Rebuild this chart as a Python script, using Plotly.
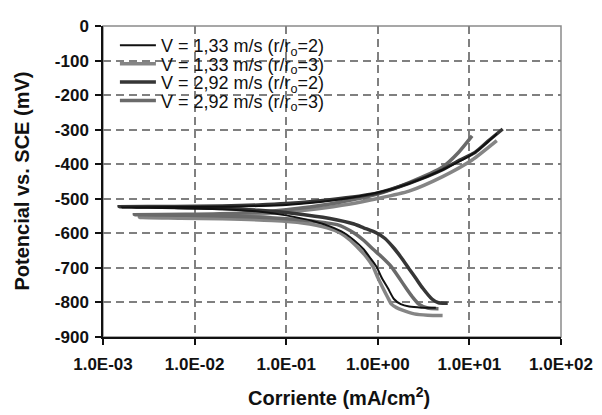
import plotly.graph_objects as go

# Series names
names = [
    "V = 1,33 m/s (r/r<sub>o</sub>=2)",
    "V = 1,33 m/s (r/r<sub>o</sub>=3)",
    "V = 2,92 m/s (r/r<sub>o</sub>=2)",
    "V = 2,92 m/s (r/r<sub>o</sub>=3)",
]

# Series 1: V = 1,33 m/s (r/ro=2)  -- current (mA/cm2), potential (mV)
s1_i = [4.3, 3.0, 2.2, 1.78, 1.5, 1.29, 1.1, 0.97, 0.82, 0.70, 0.55, 0.43, 0.3, 0.2, 0.1, 0.05, 0.02, 0.006, 0.0016,
        0.006, 0.02, 0.05, 0.1, 0.3, 1.0, 2.2, 5.1, 11.5, 20]
s1_e = [-815, -815, -812, -805, -790, -759, -728, -697, -670, -646, -620, -599, -580, -565, -548, -537, -530, -527, -525,
        -524, -523, -521, -518, -506, -482, -456, -416, -366, -312]

# Series 2: V = 1,33 m/s (r/ro=3)
s2_i = [5.1, 3.5, 2.5, 1.89, 1.6, 1.41, 1.28, 1.14, 1.0, 0.89, 0.75, 0.63, 0.5, 0.39, 0.28, 0.15, 0.07, 0.02, 0.007, 0.0025,
        0.007, 0.02, 0.07, 0.2, 0.5, 0.97, 2.19, 5.1, 10.7, 19.9]
s2_e = [-838, -837, -833, -823, -815, -805, -785, -759, -728, -697, -668, -646, -620, -599, -584, -570, -563, -558, -556, -554,
        -553, -550, -542, -530, -515, -500, -478, -436, -388, -332]

# Series 3: V = 2,92 m/s (r/ro=2)
s3_i = [5.8, 4.6, 3.9, 3.1, 2.6, 2.2, 1.8, 1.48, 1.2, 0.97, 0.7, 0.55, 0.3, 0.13, 0.05, 0.02, 0.006, 0.0015,
        0.006, 0.02, 0.05, 0.1, 0.3, 0.97, 2.2, 5.1, 7.6, 11.5, 16, 23.1]
s3_e = [-802, -801, -790, -759, -730, -703, -670, -641, -615, -599, -584, -573, -557, -543, -533, -528, -525, -523,
        -522, -521, -518, -514, -503, -484, -455, -416, -390, -366, -333, -298]

# Series 4: V = 2,92 m/s (r/ro=3)
s4_i = [4.6, 3.5, 2.8, 2.4, 2.04, 1.7, 1.41, 1.1, 0.89, 0.7, 0.55, 0.36, 0.2, 0.1, 0.03, 0.008, 0.0022,
        0.008, 0.03, 0.1, 0.3, 0.97, 2.2, 5.1, 7.6, 10.7]
s4_e = [-818, -816, -805, -785, -759, -728, -697, -668, -646, -620, -599, -575, -565, -558, -551, -548, -546,
        -545, -542, -532, -515, -487, -453, -408, -366, -318]

x_tickvals = [1e-3, 1e-2, 1e-1, 1e0, 1e1, 1e2]
x_ticktext = ["1.0E-03", "1.0E-02", "1.0E-01", "1.0E+00", "1.0E+01", "1.0E+02"]
y_tickvals = [0, -100, -200, -300, -400, -500, -600, -700, -800, -900]
y_ticktext = ["0", "-100", "-200", "-300", "-400", "-500", "-600", "-700", "-800", "-900"]

colors = ["#111111", "#858585", "#363636", "#6a6a6a"]
widths = [2, 3.5, 3.5, 3.5]
data = [(s1_i, s1_e), (s2_i, s2_e), (s3_i, s3_e), (s4_i, s4_e)]
legend_ids = ["legend", "legend2", "legend3", "legend4"]
legend_y = [0.9969, 0.9375, 0.8781, 0.8188]

FONT = "Liberation Sans, Arial, sans-serif"
INK = "#111111"

fig = go.Figure()
# draw order: grays first, dark, black thin on top
for k in [1, 3, 2, 0]:
    xi, ye = data[k]
    fig.add_trace(go.Scatter(
        x=xi, y=ye, mode="lines", name=names[k], legend=legend_ids[k],
        line=dict(color=colors[k], width=widths[k], shape="spline", smoothing=0.6),
    ))

legend_common = dict(
    x=0.026, xanchor="left", yanchor="top",
    bgcolor="rgba(0,0,0,0)", borderwidth=0,
    font=dict(family=FONT, size=18, color=INK),
    itemwidth=36,
)
layout_legends = {}
for lid, ly in zip(legend_ids, legend_y):
    layout_legends[lid] = dict(legend_common, y=ly)

fig.update_layout(
    width=594, height=407,
    margin=dict(l=95, r=35, t=9, b=78),
    paper_bgcolor="white", plot_bgcolor="white",
    showlegend=True,
    font=dict(family=FONT, color=INK),
    **layout_legends,
)

grid = dict(showgrid=True, gridcolor="#808080", gridwidth=1.5, griddash="8px,5px")
fig.update_xaxes(
    type="log", range=[-3, 2],
    tickvals=x_tickvals, ticktext=x_ticktext,
    tickfont=dict(family=FONT, size=17, weight="bold", color=INK),
    ticks="outside", ticklen=6, tickcolor=INK, tickwidth=1.5,
    ticklabelstandoff=5, ticklabeloverflow="allow",
    showline=True, linecolor=INK, linewidth=1.5,
    zeroline=False, **grid,
)
fig.update_yaxes(
    range=[-900, 0],
    tickvals=y_tickvals, ticktext=y_ticktext,
    tickfont=dict(family=FONT, size=17, weight="bold", color=INK),
    ticks="outside", ticklen=6, tickcolor=INK, tickwidth=1.5,
    ticklabelstandoff=3, ticklabeloverflow="allow",
    showline=True, linecolor=INK, linewidth=1.5,
    zeroline=False, **grid,
)

# gray frame on top/right
fig.add_shape(type="rect", xref="paper", yref="paper", x0=0, x1=1, y0=0, y1=1,
              line=dict(color="#8a8a8a", width=1.5), layer="below")
# white legend backdrop hiding gridlines
fig.add_shape(type="rect", xref="paper", yref="paper", x0=0.019, x1=0.526, y0=0.709, y1=0.959,
              line=dict(width=0), fillcolor="white", layer="between")

fig.add_annotation(
    text="<b>Corriente (mA/cm<sup>2</sup>)</b>", xref="paper", yref="paper",
    x=0.515, y=-0.19, xanchor="center", yanchor="middle", showarrow=False,
    font=dict(family=FONT, size=20, color=INK),
)
fig.add_annotation(
    text="<b>Potencial vs. SCE (mV)</b>", xref="paper", yref="paper",
    x=-0.179, y=0.5, xanchor="center", yanchor="middle", textangle=-90, showarrow=False,
    font=dict(family=FONT, size=20, color=INK),
)

fig.write_html("out.html")
